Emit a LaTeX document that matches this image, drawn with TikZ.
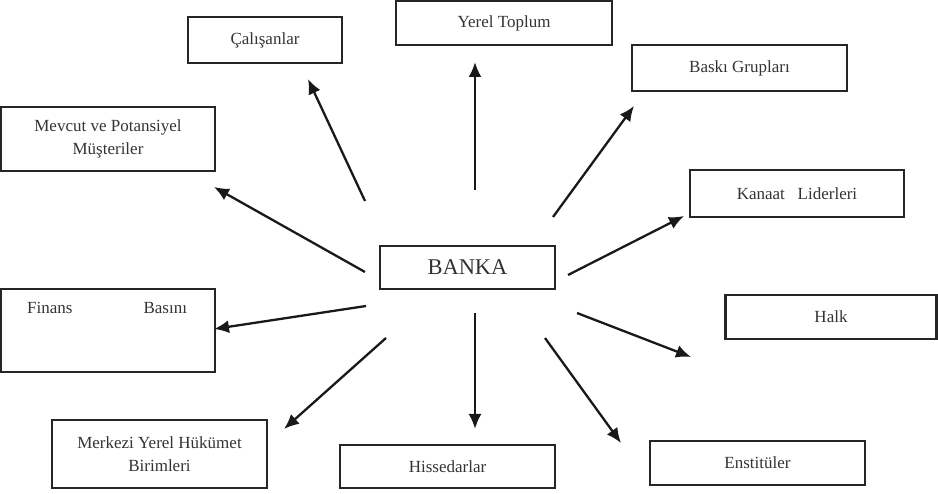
\documentclass[tikz,border=0pt]{standalone}
\usepackage{fontspec}
\setmainfont{Liberation Serif}
\usetikzlibrary{arrows.meta}
\begin{document}
\begin{tikzpicture}[x=1pt,y=-1pt,
  box/.style={draw=black!85,line width=2.2pt,inner sep=0pt,align=center,
    text=black!80,font=\fontsize{17}{23}\selectfont},
  arr/.style={draw=black!90,line width=2.3pt,-{Latex[length=15pt,width=13pt]}}]
\useasboundingbox (0,0) rectangle (938,494);
% boxes
\node[box,minimum width=154pt,minimum height=46pt] (cal) at (265,40) {Çalışanlar};
\node[box,minimum width=216pt,minimum height=44pt] (yerel) at (504,23) {Yerel Toplum};
\node[box,minimum width=215pt,minimum height=46pt] (baski) at (739.5,68) {Baskı Grupları};
\node[box,minimum width=214pt,minimum height=47pt] (kanaat) at (797,193.5) {Kanaat\ \ \ Liderleri};
\node[box,minimum width=214pt,minimum height=64pt] (mevcut) at (108,139) {Mevcut ve Potansiyel\\Müşteriler};
\node[box,minimum width=175pt,minimum height=43pt,font=\fontsize{22.5}{26}\selectfont] (banka) at (467.5,267.5) {BANKA};
\node[box,minimum width=214pt,minimum height=83pt] (finans) at (108,330.5) {};
\node[anchor=base west,inner sep=0pt,text=black!80,font=\fontsize{17}{23}\selectfont]
  (finanstext) at (27,314) {Finans\hspace{71pt}Basını};
\node[box,minimum width=215pt,minimum height=68pt] (merkezi) at (159.5,454) {Merkezi Yerel Hükümet\\Birimleri};
\node[box,minimum width=215pt,minimum height=43pt] (hisse) at (447.5,466.5) {Hissedarlar};
\node[box,minimum width=211pt,minimum height=44pt] (halk) at (831,317) {Halk};
\node[box,minimum width=215pt,minimum height=44pt] (enst) at (757.5,463) {Enstitüler};
% arrow end points
\coordinate (sCal) at (365,201);   \coordinate (tCal) at (308,79);
\coordinate (sMev) at (365,272);   \coordinate (tMev) at (214,187);
\coordinate (sYer) at (475,190);   \coordinate (tYer) at (475,62);
\coordinate (sBas) at (553,217);   \coordinate (tBas) at (634,106);
\coordinate (sKan) at (568,275);   \coordinate (tKan) at (684,216);
\coordinate (sFin) at (366,306);   \coordinate (tFin) at (214,329);
\coordinate (sMer) at (386,338);   \coordinate (tMer) at (284,429);
\coordinate (sHis) at (475,313);   \coordinate (tHis) at (475,429);
\coordinate (sHal) at (577,313);   \coordinate (tHal) at (691,357);
\coordinate (sEns) at (545,338);   \coordinate (tEns) at (621,443);
% arrows
\draw[arr] (sCal) -- (tCal);
\draw[arr] (sMev) -- (tMev);
\draw[arr] (sYer) -- (tYer);
\draw[arr] (sBas) -- (tBas);
\draw[arr] (sKan) -- (tKan);
\draw[arr] (sFin) -- (tFin);
\draw[arr] (sMer) -- (tMer);
\draw[arr] (sHis) -- (tHis);
\draw[arr] (sHal) -- (tHal);
\draw[arr] (sEns) -- (tEns);
\end{tikzpicture}
\end{document}
